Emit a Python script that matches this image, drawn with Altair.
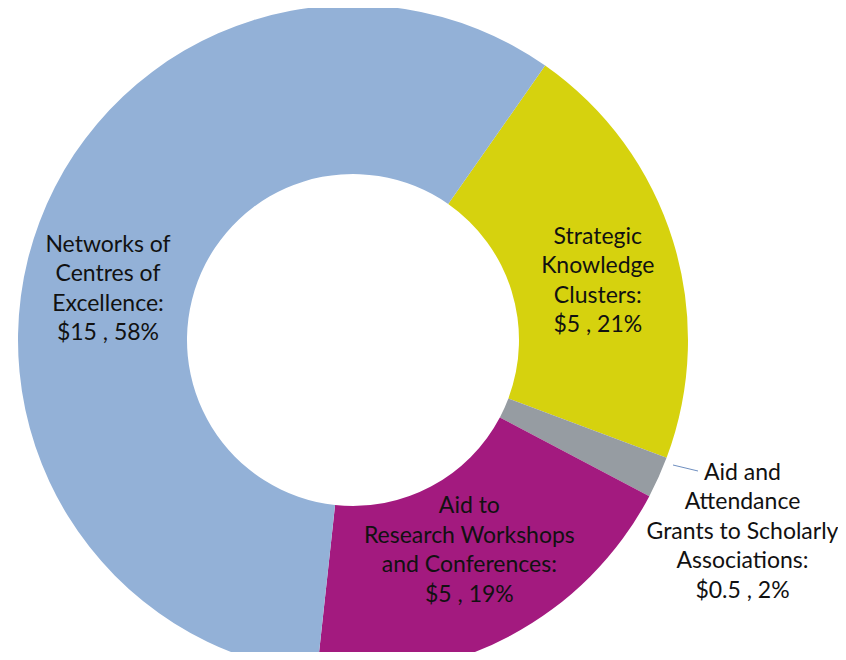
import math
import altair as alt
import pandas as pd

# ---- data ----
categories = [
    "Strategic Knowledge Clusters",
    "Aid and Attendance Grants to Scholarly Associations",
    "Aid to Research Workshops and Conferences",
    "Networks of Centres of Excellence",
]
label_lines = [
    "Strategic\nKnowledge\nClusters:",
    "Aid and\nAttendance\nGrants to Scholarly\nAssociations:",
    "Aid to\nResearch  Workshops\nand Conferences:",
    "Networks of\nCentres of\nExcellence:",
]
dollars = ["$5", "$0.5", "$5", "$15"]
percents = [21, 2, 19, 58]
colors = ["#D6D20E", "#969CA2", "#A31A7F", "#93B1D7"]

df = pd.DataFrame({
    "idx": list(range(len(categories))),
    "category": categories,
    "pct": percents,
    "label": [f"{l}\n{d} , {p}%" for l, d, p in zip(label_lines, dollars, percents)],
})

# ---- layout / style ----
W, H = 830, 644
CX, CY = 345, 332
R_OUT, R_IN = 335, 166
LH = 29.5
start = math.radians(35)
theta_scale = alt.Scale(range=[start, start + 2 * math.pi])

base = alt.Chart(df)

arcs = base.mark_arc(innerRadius=R_IN, outerRadius=R_OUT, strokeWidth=0).encode(
    theta=alt.Theta("pct:Q", stack=True, scale=theta_scale),
    order=alt.Order("idx:Q"),
    color=alt.Color("category:N", scale=alt.Scale(domain=categories, range=colors), legend=None),
    x=alt.value(CX),
    y=alt.value(CY),
)

# per-label placement: (radius, dx, dy of block centre)
placements = {0: (250, 6, 15), 1: (438, -10, 12), 2: (250, -1, -10), 3: (250, -11, 37)}

layers = [arcs]
for i, (r, dx, dy) in placements.items():
    n_lines = df.loc[i, "label"].count("\n") + 1
    t = base.transform_calculate(
        t=f"datum.idx == {i} ? datum.label : ''"
    ).mark_text(
        radius=r, dx=dx, dy=dy - (n_lines - 1) / 2 * LH, lineBreak="\n", lineHeight=LH,
        font="Lato", fontSize=23, color="#111111", align="center", baseline="middle",
    ).encode(
        theta=alt.Theta("pct:Q", stack=True, scale=theta_scale),
        order=alt.Order("idx:Q"),
        detail="category:N",
        text="t:N",
        x=alt.value(CX),
        y=alt.value(CY),
    )
    layers.append(t)

leader = base.transform_filter("datum.idx == 1").mark_rule(color="#6F8FC0", strokeWidth=1).encode(
    x=alt.value(665), x2=alt.value(690), y=alt.value(457), y2=alt.value(463)
)
layers.append(leader)

chart = alt.layer(*layers).properties(
    width=W, height=H, autosize=alt.AutoSizeParams(type="none"), padding=0
).configure_view(stroke=None)

chart.save("out.html", embed_options={"renderer": "svg", "actions": False})
